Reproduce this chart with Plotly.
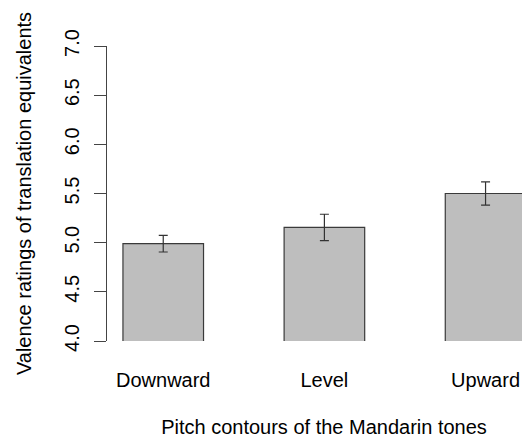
import plotly.graph_objects as go

categories = ["Downward", "Level", "Upward"]
means = [4.99, 5.155, 5.50]
errors = [0.085, 0.134, 0.118]
y_ticks = [4.0, 4.5, 5.0, 5.5, 6.0, 6.5, 7.0]
y_tick_labels = ["4.0", "4.5", "5.0", "5.5", "6.0", "6.5", "7.0"]

FONT = "Liberation Sans, Arial, sans-serif"

fig = go.Figure()
fig.add_trace(go.Bar(
    x=categories,
    y=means,
    width=0.5,
    marker=dict(color="#bebebe", line=dict(color="#3a3a3a", width=1.2)),
    error_y=dict(type="data", array=errors, visible=True,
                 color="#333333", thickness=1.2, width=4.5),
    showlegend=False,
))

# The original plotting region runs past the right edge of the 522px crop,
# so the figure is a little wider than the window and the overflow is hidden.
fig.update_layout(
    width=541, height=438,
    margin=dict(l=107, r=0, t=46, b=97),
    paper_bgcolor="white", plot_bgcolor="white",
    font=dict(family=FONT, size=20, color="#000000"),
    bargap=0.5,
)

fig.update_xaxes(
    type="category",
    range=[-0.349, 2.344],
    showline=False, showgrid=False, zeroline=False,
    ticks="", ticklabelstandoff=25,
    tickfont=dict(size=20),
    title=dict(text="Pitch contours of the Mandarin tones", font=dict(size=20), standoff=37),
    automargin=False,
)

fig.update_yaxes(
    range=[4, 7],
    tickvals=y_ticks, ticktext=y_tick_labels,
    tickangle=-90,
    showline=True, linecolor="#444444", linewidth=1.2,
    ticks="outside", ticklen=12, tickcolor="#444444", tickwidth=1.2,
    ticklabelstandoff=7,
    showgrid=False, zeroline=False,
    tickfont=dict(size=20),
    title=dict(text="Valence ratings of translation equivalents", font=dict(size=20), standoff=23),
    automargin=False,
)

# remove the page's default body margin so the figure starts at the window's corner
fig.write_html(
    "out.html",
    config={"displayModeBar": False},
    post_script="document.body.style.margin='0';document.documentElement.style.overflow='hidden';",
)
